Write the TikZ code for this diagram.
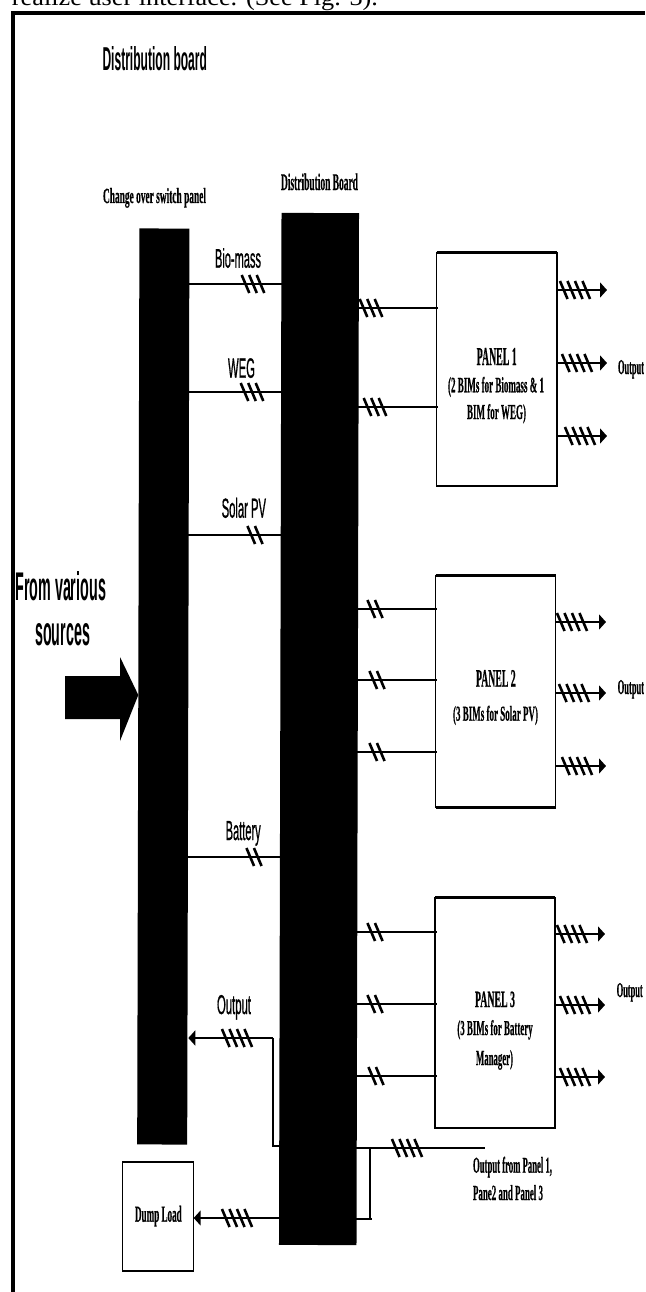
\documentclass[tikz,border=0pt]{standalone}
\usepackage{fontspec}
\usepackage{graphicx}
\usetikzlibrary{arrows.meta}
\setmainfont{Liberation Serif}
\newfontfamily\arialfam{Liberation Sans}[FakeBold=1.2]
\newfontfamily\arialheavy{Liberation Sans Bold}
\newfontfamily\serifheavy{Liberation Serif Bold}[FakeBold=0.6]
\newcommand{\fitbox}[3]{\resizebox{#1pt}{#2pt}{#3}}
\tikzset{
  txt/.style={anchor=base west,inner sep=0pt,outer sep=0pt},
  bar/.style={fill=black,draw=none,inner sep=0pt,outer sep=0pt,rotate=-0.14},
  panelbox/.style={draw=black,line width=1.2pt,fill=white,inner sep=0pt,outer sep=0pt},
  wire/.style={line width=2.5pt,shorten <=-1.5pt,shorten >=-1.5pt},
  thinwire/.style={line width=1.4pt},
  arrowed/.style={line width=2.5pt,-{Triangle[length=7pt,width=15pt]}},
  tickmark/.style={line width=2.6pt,line cap=butt}
}
\newcommand{\tickmarks}[3]{%
  \foreach \i in {1,...,#3}{
    \draw[tickmark] ({#1+(\i-(#3+1)/2)*7.5-3.8},{#2-9}) -- ({#1+(\i-(#3+1)/2)*7.5+3.8},{#2+9});
  }}
\newcommand{\thickedges}[1]{%
  \draw[line width=2.5pt] (#1.north west) -- (#1.north east);
  \draw[line width=2.5pt] (#1.south west) -- (#1.south east);}
\begin{document}
\begin{tikzpicture}[x=1pt,y=-1pt]
\useasboundingbox (0,0) rectangle (645,1292);
\clip (0,0) rectangle (645,1292);
\fill[white] (0,0) rectangle (645,1292);

% page text and frame
\node[txt] (pagetext) at (12,6) {\fitbox{366}{17}{realize user interface. (See Fig. 3).}};
\coordinate (frametr) at (645,13);
\coordinate (frametl) at (13,13);
\coordinate (framebl) at (13,1292);
\draw[line width=4pt] (framebl) -- (frametl) -- (frametr);

% blocks
\node[bar,minimum width=50pt,minimum height=916pt] (csp) at (163.3,686.5) {};
\node[bar,minimum width=77.5pt,minimum height=1032pt] (db) at (319,729) {};
\node[panelbox,minimum width=120.3pt,minimum height=233.3pt] (pa) at (496.8,369.3) {};
\node[panelbox,minimum width=120pt,minimum height=232pt] (pb) at (495.7,691.3) {};
\node[panelbox,minimum width=120pt,minimum height=230.3pt] (pc) at (495,1012.8) {};
\node[panelbox,minimum width=71pt,minimum height=109pt] (dump) at (158.2,1216.5) {};
\thickedges{pa}\thickedges{pb}\thickedges{pc}\thickedges{dump}

% big input arrow
\coordinate (biga) at (65,676);
\coordinate (bigb) at (120,676);
\coordinate (bigc) at (120,657);
\coordinate (bigd) at (120,741);
\coordinate (bige) at (120,719);
\coordinate (bigf) at (65,719);
\fill (biga) -- (bigb) -- (bigc) -- (csp.west |- 0,695) -- (bigd) -- (bige) -- (bigf) -- cycle;

% source lines
\draw[wire] (csp.east |- 0,284) -- (db.west |- 0,284);
\tickmarks{253}{284}{3}
\draw[wire] (csp.east |- 0,392) -- (db.west |- 0,392);
\tickmarks{252}{392}{3}
\draw[wire] (csp.east |- 0,535) -- (db.west |- 0,535);
\tickmarks{255}{535}{2}
\draw[wire] (csp.east |- 0,857) -- (db.west |- 0,857);
\tickmarks{254}{857}{2}

% panel inputs
\foreach \pn/\yy/\tx/\nn in {pa/308/371/3,pa/407/375/3,pb/609/375/2,pb/680/377/2,pb/752/377/2,pc/932/375/2,pc/1004/375/2,pc/1076/376/2}{
  \draw[wire] (db.east |- 0,\yy) -- (\pn.west |- 0,\yy);
  \tickmarks{\tx}{\yy}{\nn}
}

% panel outputs
\foreach \pn/\yy/\tx/\tipx in {pa/290/575/607,pa/363/577/607,pa/436/580/607,pb/622/572/606,pb/693/574/606,pb/766/577/606,pc/934/572/605,pc/1005/575/605,pc/1077/575/605}{
  \coordinate (tip) at (\tipx,\yy);
  \draw[arrowed] (\pn.east |- 0,\yy) -- (tip);
  \tickmarks{\tx}{\yy}{4}
}

% output return
\coordinate (ra) at (273,1146);
\coordinate (rb) at (273,1038);
\draw[thinwire] (db.west |- 0,1146) -- (ra) -- (rb);
\draw[arrowed] (rb) -- (csp.east |- 0,1038);
\tickmarks{237}{1038}{4}

% collector
\coordinate (cend) at (483,1148);
\coordinate (cbr) at (370,1148);
\coordinate (cdn) at (370,1219);
\draw[wire] (db.east |- 0,1148) -- (cend);
\tickmarks{407}{1148}{4}
\draw[thinwire] (cbr) -- (cdn);
\draw[wire] (cdn) -- (db.east |- 0,1219);

% dump load
\draw[arrowed] (db.west |- 0,1218) -- (dump.east |- 0,1218);
\tickmarks{237}{1218}{4}

% sans labels
\node[txt] (t1) at (102.5,71) {\fitbox{104.5}{24}{\arialheavy Distribution board}};
\node[txt] (t2) at (215,267.7) {\fitbox{46}{19.5}{\arialfam Bio-mass}};
\node[txt] (t3) at (228,377.7) {\fitbox{27}{19.5}{\arialfam WEG}};
\node[txt] (t4) at (221.7,517.7) {\fitbox{44.3}{20}{\arialfam Solar PV}};
\node[txt] (t5) at (225.7,840) {\fitbox{35}{19}{\arialfam Battery}};
\node[txt] (t6) at (15.3,600) {\fitbox{90.7}{29}{\arialheavy From various}};
\node[txt] (t7) at (35.3,645) {\fitbox{54.7}{22}{\arialheavy sources}};
\node[txt] (t8) at (217,1014) {\fitbox{34}{19}{\arialfam Output}};

% serif labels
\node[txt] (s1) at (103,203) {\fitbox{103}{15}{\serifheavy Change over switch panel}};
\node[txt] (s2) at (281,190) {\fitbox{77}{16.5}{\serifheavy Distribution Board}};
\node[txt] (a1) at (476.7,365) {\fitbox{40}{17}{\serifheavy PANEL 1}};
\node[txt] (a2) at (448,392.3) {\fitbox{96}{15.5}{\serifheavy (2 BIMs for Biomass \& 1}};
\node[txt] (a3) at (467,419) {\fitbox{59}{15}{\serifheavy BIM for WEG)}};
\node[txt] (a4) at (618,374) {\fitbox{26}{14}{\serifheavy Output}};
\node[txt] (b1) at (476,686.7) {\fitbox{39.7}{16.7}{\serifheavy PANEL 2}};
\node[txt] (b2) at (453,720.7) {\fitbox{85}{15}{\serifheavy (3 BIMs for Solar PV)}};
\node[txt] (b4) at (617.7,694) {\fitbox{26.3}{14}{\serifheavy Output}};
\node[txt] (c1) at (475,1007) {\fitbox{40}{15.5}{\serifheavy PANEL 3}};
\node[txt] (c2) at (457.3,1035) {\fitbox{75.4}{15}{\serifheavy (3 BIMs for Battery}};
\node[txt] (c3) at (476,1065) {\fitbox{37}{15}{\serifheavy Manager)}};
\node[txt] (c4) at (616.7,997) {\fitbox{26}{14}{\serifheavy Output}};
\node[txt] (o1) at (473,1172.7) {\fitbox{79}{16}{\serifheavy Output from Panel 1,}};
\node[txt] (o2) at (473,1200) {\fitbox{70}{15}{\serifheavy Pane2 and Panel 3}};
\node[txt] (d1) at (135,1221.7) {\fitbox{46.7}{16}{\serifheavy Dump Load}};
\end{tikzpicture}
\end{document}
